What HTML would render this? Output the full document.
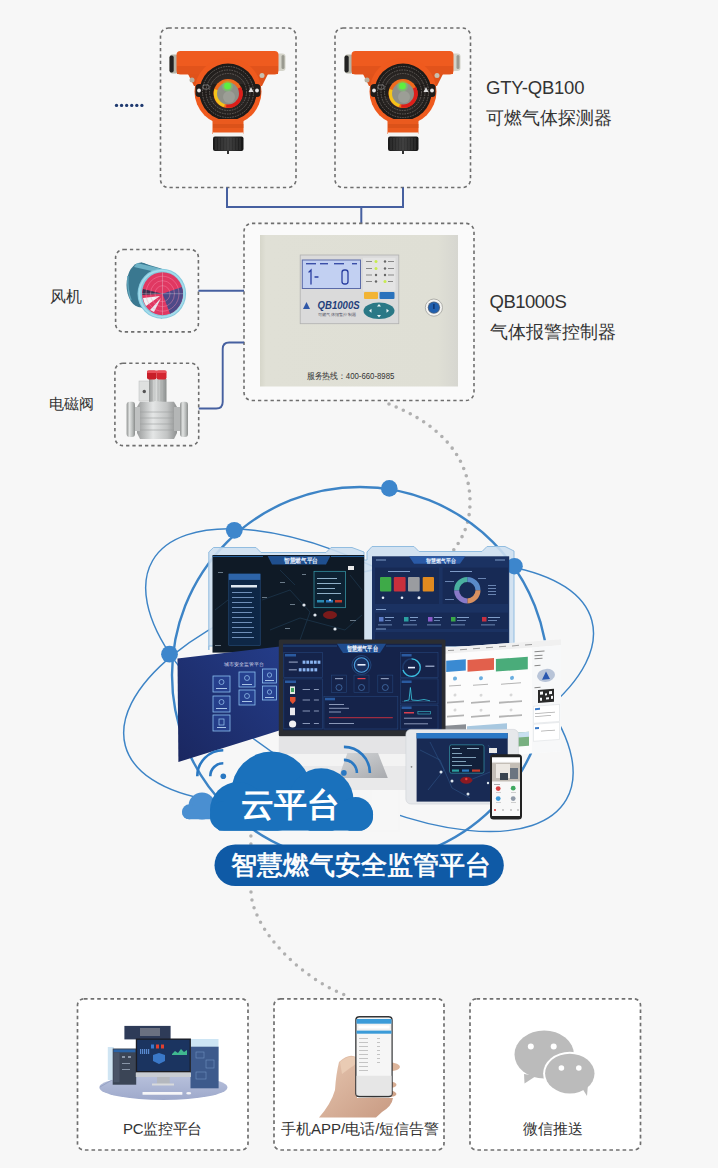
<!DOCTYPE html>
<html><head><meta charset="utf-8">
<style>
html,body{margin:0;padding:0;}
body{width:718px;height:1168px;overflow:hidden;background:#f7f7f7;position:relative;font-family:"Liberation Sans",sans-serif;color:#333;}
svg{position:absolute;left:0;top:0;}
.t{position:absolute;white-space:nowrap;line-height:1;font-weight:400;}
</style></head><body>
<svg width="718" height="1168" viewBox="0 0 718 1168">
<defs>
  <radialGradient id="faceg" cx="0.5" cy="0.5" r="0.5">
    <stop offset="0" stop-color="#3a3532"/><stop offset="0.6" stop-color="#2a2624"/><stop offset="1" stop-color="#1c1917"/>
  </radialGradient>
  <linearGradient id="capg" x1="0" x2="1" y1="0" y2="0">
    <stop offset="0" stop-color="#1a1a1a"/><stop offset="0.5" stop-color="#3a3a3a"/><stop offset="1" stop-color="#141414"/>
  </linearGradient>
  <linearGradient id="metalg" x1="0" x2="1" y1="0" y2="0">
    <stop offset="0" stop-color="#8e9190"/><stop offset="0.35" stop-color="#e2e4e3"/><stop offset="0.7" stop-color="#b8bbba"/><stop offset="1" stop-color="#8a8d8c"/>
  </linearGradient>
  <linearGradient id="valveg" x1="0" x2="1" y1="0" y2="0">
    <stop offset="0" stop-color="#9a9c9c"/><stop offset="0.4" stop-color="#e4e6e6"/><stop offset="0.75" stop-color="#c2c4c4"/><stop offset="1" stop-color="#8e9090"/>
  </linearGradient>
  <g id="det">
    <!-- caps -->
    <rect x="169.5" y="54.5" width="9" height="19" rx="3" fill="#b4b4a8"/>
    <rect x="169.5" y="55.5" width="4.2" height="17" rx="2" fill="#222"/>
    <rect x="276.5" y="53.5" width="9" height="17.5" rx="3" fill="#d4d4ca"/>
    <rect x="281.5" y="55" width="3" height="14" rx="1.5" fill="#9a9a90"/>
    <!-- tube -->
    <rect x="176.5" y="51" width="102" height="23.5" rx="4" fill="#ef5b1f"/>
    <rect x="177" y="66" width="101" height="8" fill="#e2531b"/>
    <path d="M188 74 H268 L262 86 H194Z" fill="#e0521a"/>
    <circle cx="192" cy="80" r="2.5" fill="#b8b0a0"/>
    <circle cx="262" cy="75.5" r="2.5" fill="#c8c0b0"/>
    <!-- housing -->
    <circle cx="228" cy="91.5" r="33.5" fill="#ef5a1e"/>
    <circle cx="228" cy="92" r="28.5" fill="url(#faceg)"/>
    <rect x="195.5" y="84" width="65" height="13" rx="3.5" fill="#201c1a"/>
    <g fill="none" stroke="#6a6460" stroke-width="0.9" stroke-dasharray="1.6 1">
      <circle cx="228" cy="92" r="25.5"/>
      <circle cx="228" cy="92" r="22"/>
      <circle cx="228" cy="92" r="18.5"/>
    </g>
    <circle cx="199" cy="90.5" r="1.9" fill="#e8e8e8"/>
    <circle cx="257" cy="90.5" r="1.9" fill="#e8e8e8"/>
    <rect x="203" y="85" width="6" height="4" rx="1" fill="none" stroke="#aaa" stroke-width="0.6"/>
    <path d="M248.5 92 l2.5 -5 l2.5 5z" fill="#ddd"/>
    <circle cx="228" cy="93.5" r="14.5" fill="#f06a1c"/>
    <path d="M228 93.5 L214.5 89 A14 14 0 0 0 224 107Z" fill="#f4c41a"/>
    <path d="M228 93.5 L241 87 A14 14 0 0 1 226 107.4Z" fill="#dc1e1a"/>
    <circle cx="228" cy="93.5" r="11" fill="#8e9088"/>
    <circle cx="229" cy="97" r="6" fill="#9c9e96"/>
    <circle cx="227.5" cy="86" r="5.5" fill="#60ff50" fill-opacity="0.3"/>
    <circle cx="227.5" cy="86" r="3.4" fill="#5ef040"/>
    <!-- neck -->
    <path d="M212.5 119 H243.5 V134 H212.5Z" fill="#ea5a1e"/>
    <rect x="213" y="124" width="30.5" height="4" fill="#d04c16" fill-opacity="0.6"/>
    <rect x="213" y="132.5" width="30.5" height="4.5" fill="#f4f4f2"/>
    <rect x="213" y="136.5" width="30.5" height="14.5" rx="2" fill="url(#capg)"/>
    <g stroke="#555" stroke-width="0.5"><path d="M216 138 V150 M219 138 V150 M222 138 V150 M225 138 V150 M228 138 V150 M231 138 V150 M234 138 V150 M237 138 V150 M240 138 V150"/></g>
    <rect x="227" y="150.5" width="2" height="3.5" fill="#333"/>
  </g>
</defs>

<!-- ===== top detectors ===== -->
<rect x="160.5" y="28" width="135.5" height="159.5" rx="8" fill="none" stroke="#6e6e6e" stroke-width="1.6" stroke-dasharray="3.3 3"/>
<rect x="335" y="28" width="135.5" height="159.5" rx="8" fill="none" stroke="#6e6e6e" stroke-width="1.6" stroke-dasharray="3.3 3"/>
<use href="#det"/>
<use href="#det" x="175"/>
<!-- dots left -->
<g fill="#1f3a70"><circle cx="116.50" cy="105.4" r="1.65"/><circle cx="121.58" cy="105.4" r="1.65"/><circle cx="126.66" cy="105.4" r="1.65"/><circle cx="131.74" cy="105.4" r="1.65"/><circle cx="136.82" cy="105.4" r="1.65"/><circle cx="141.90" cy="105.4" r="1.65"/></g>
<!-- connectors -->
<path d="M227 187.5 V207 H403 V187.5 M361.3 207 V223.4" fill="none" stroke="#4660a0" stroke-width="2"/>

<!-- ===== control box ===== -->
<rect x="244" y="223.4" width="230" height="177.1" rx="8" fill="#fafafa" stroke="#6e6e6e" stroke-width="1.6" stroke-dasharray="3.3 3"/>
<defs><linearGradient id="pang" x1="0" x2="1" y1="0" y2="0"><stop offset="0" stop-color="#d6d6ca"/><stop offset="0.03" stop-color="#e0e0d6"/><stop offset="0.9" stop-color="#dfdfd5"/><stop offset="1" stop-color="#d6d6d0"/></linearGradient></defs>
<rect x="260" y="235" width="198" height="151.5" fill="url(#pang)"/>
<!-- display module -->
<rect x="300.2" y="255" width="98.6" height="68.7" fill="#dadada" stroke="#b0b0b0" stroke-width="0.8"/>
<rect x="301.8" y="259.5" width="59.2" height="29.5" fill="#5a6aa8"/>
<rect x="302.8" y="260.5" width="57.2" height="27.5" fill="#c2d0f2"/>
<g fill="#3a4ea8"><rect x="306" y="263" width="10" height="1.4"/><rect x="320" y="263" width="8" height="1.4"/><rect x="334" y="263" width="10" height="1.4"/><rect x="352" y="263" width="5" height="1.4"/></g>
<g stroke="#2a3ea0" stroke-width="1.3" fill="none" stroke-linecap="round">
  <path d="M309 272 L311 270 V284"/><path d="M315 277 H318"/>
  <rect x="342" y="270" width="6" height="14" rx="2.5"/>
</g>
<rect x="363" y="257.8" width="32.5" height="33" fill="#e4e4e4"/>
<g fill="#c8ec50"><circle cx="376" cy="261.5" r="1.5"/><circle cx="376" cy="268.5" r="1.5"/><circle cx="385" cy="281.5" r="1.5"/></g>
<g fill="#666"><circle cx="385" cy="261.5" r="1.2"/><circle cx="385" cy="268.5" r="1.2"/><circle cx="385" cy="275" r="1.2"/><circle cx="376" cy="275" r="1.2"/><circle cx="376" cy="281.5" r="1.2"/></g>
<g fill="#888"><rect x="366" y="261" width="6" height="1"/><rect x="366" y="268" width="6" height="1"/><rect x="366" y="274.5" width="6" height="1"/><rect x="366" y="281" width="6" height="1"/><rect x="388" y="261" width="6" height="1"/><rect x="388" y="268" width="6" height="1"/><rect x="388" y="274.5" width="6" height="1"/><rect x="388" y="281" width="5" height="1"/></g>
<rect x="364" y="292" width="14" height="7" rx="1" fill="#f2b434"/>
<rect x="379.5" y="292" width="15" height="7" rx="1" fill="#2a72bc"/>
<ellipse cx="379" cy="310.8" rx="15.5" ry="8.3" fill="#2a7886"/>
<g fill="#e8f4f6"><path d="M379 304 l2 2.5 h-4z"/><path d="M379 317.5 l2 -2.5 h-4z"/><path d="M369 310.8 l2.5 -2 v4z"/><path d="M389 310.8 l-2.5 -2 v4z"/></g>
<text x="317.6" y="309.3" font-size="10.5" font-weight="bold" font-style="italic" fill="#1f3f7a" textLength="42" lengthAdjust="spacingAndGlyphs">QB1000S</text>
<path d="M303 309 l3.5 -7 l3.5 7z" fill="#3058a8"/>
<text x="318" y="315.5" font-size="4" fill="#556" textLength="38" lengthAdjust="spacingAndGlyphs">可燃气体报警控制器</text>
<!-- key lock -->
<circle cx="433.9" cy="307.6" r="8.6" fill="#f4f4f2" stroke="#a0a09a" stroke-width="0.8"/>
<circle cx="433.9" cy="307.6" r="6.2" fill="#5a6a80"/>
<circle cx="433.9" cy="307.6" r="5.3" fill="#1f5fae"/>
<path d="M433.9 304 V309" stroke="#0a2a60" stroke-width="1.2"/>
<text x="306.8" y="378.8" font-size="9" fill="#333" textLength="87.6" lengthAdjust="spacingAndGlyphs">服务热线：400-660-8985</text>

<!-- ===== fan box ===== -->
<rect x="115.6" y="249.5" width="82.8" height="82.4" rx="8" fill="none" stroke="#6e6e6e" stroke-width="1.6" stroke-dasharray="3.3 3"/>
<path d="M141 262.5 L161.8 268.7 L161.8 318.7 L141 307.5Z" fill="#3b7b92"/>
<ellipse cx="141" cy="285" rx="14.5" ry="22.5" fill="#3a7890"/>
<path d="M128 276 Q127 290 131 300" stroke="#62a6bc" stroke-width="1.4" fill="none"/>
<path d="M137 263 L160 268.5 L156 272 L134 267Z" fill="#6eb2c6"/>
<ellipse cx="161.8" cy="293.7" rx="24.3" ry="25" fill="#86cade"/>
<ellipse cx="162.5" cy="293.7" rx="20.5" ry="21.5" fill="#e03862"/>
<path d="M162.5 293.7 L182 287 A20.5 21.5 0 0 1 170 313.7Z" fill="#4e4a88"/>
<path d="M160 296 L143 298 A20.5 21.5 0 0 0 146 306Z" fill="#f2f2f4"/>
<path d="M161 298 L150 310 L154 312Z" fill="#e8e8f0"/>
<path d="M162.5 293.7 L143 289 A20.5 21.5 0 0 0 142.5 295Z" fill="#3a3050"/>
<g fill="none" stroke="#f890b0" stroke-width="0.6" stroke-opacity="0.7"><ellipse cx="162.5" cy="293.7" rx="16.5" ry="17.5"/><ellipse cx="162.5" cy="293.7" rx="12" ry="13"/><ellipse cx="162.5" cy="293.7" rx="7.5" ry="8"/></g>
<g stroke="#e0f0f6" stroke-width="0.5" stroke-opacity="0.6"><path d="M142 293.7 H183 M162.5 272.2 V315.2"/></g>
<ellipse cx="161.8" cy="293.7" rx="22.4" ry="23.2" fill="none" stroke="#a4dcec" stroke-width="1.6"/>
<path d="M198.4 290.8 H244" stroke="#4660a0" stroke-width="1.9" fill="none"/>

<!-- ===== valve box ===== -->
<rect x="114.9" y="363.2" width="83.8" height="82.4" rx="8" fill="none" stroke="#6e6e6e" stroke-width="1.6" stroke-dasharray="3.3 3"/>
<rect x="139" y="381" width="10.5" height="20" fill="#dfe1e0" stroke="#b8baba" stroke-width="0.5"/>
<circle cx="144.3" cy="391.5" r="1.7" fill="#555"/>
<rect x="149" y="379" width="17.5" height="23" fill="url(#metalg)"/>
<g stroke="#9a9c9c" stroke-width="0.5"><path d="M152 380 V401 M155 380 V401 M158 380 V401 M161 380 V401 M164 380 V401"/></g>
<rect x="147" y="370.6" width="9.5" height="9" rx="2" fill="#c81e28"/>
<rect x="156.5" y="370.6" width="10" height="9" rx="2" fill="#d42630"/>
<rect x="147" y="370.6" width="19.5" height="2.5" rx="1" fill="#e8505a"/>
<path d="M140 401.8 H174 L177 407 V433 L174 439 H140 L137 433 V407Z" fill="url(#valveg)"/>
<g stroke="#9c9e9e" stroke-width="0.6" fill="none"><path d="M138 412 H176 M138 418 H176 M138 424 H176 M138 430 H176"/></g>
<rect x="134" y="407" width="6" height="24" fill="#bfc1c1"/>
<rect x="174" y="407" width="7" height="24" fill="#b4b6b6"/>
<rect x="126.6" y="401.8" width="8.4" height="35.2" rx="3" fill="url(#metalg)"/>
<rect x="180" y="401.8" width="8" height="35.2" rx="3" fill="url(#metalg)"/>
<path d="M198.7 408.5 H216.2 Q222.7 408.5 222.7 402 V349 Q222.7 342.5 229.2 342.5 H244" stroke="#4660a0" stroke-width="1.9" fill="none"/>

<!-- gray dotted arcs -->
<path d="M389 404 C430 420 470 450 470 502 C470 525 462 540 449 556" fill="none" stroke="#b0b0b0" stroke-width="3.6" stroke-linecap="round" stroke-dasharray="0 7.8"/>
<path d="M250.9 836 L251 892.7 C253 928 298 978 350 997" fill="none" stroke="#b0b0b0" stroke-width="3.5" stroke-linecap="round" stroke-dasharray="0 8"/>

<!-- ===== orbits ===== -->
<g fill="none" stroke="#3d84c6">
  <circle cx="360" cy="675" r="188" stroke-width="2.4"/>
  <ellipse cx="359.4" cy="680.2" rx="238.9" ry="107.3" transform="rotate(30 359.4 680.2)" stroke-width="1.45"/>
  <ellipse cx="358.6" cy="683.2" rx="241.5" ry="107.3" transform="rotate(-15 358.6 683.2)" stroke-width="1.45"/>
</g>

<!-- ===== screens A & B frames ===== -->
<g fill="#cddff0" fill-opacity="0.9" stroke="#92bde0" stroke-width="1">
  <path d="M208.8 650 V552 L213.5 547.5 H256 L261 552.5 H326 L331 547.5 H352 L364 552 V560 H367 V552 L372 546.5 H414 L419 551.5 H482 L487 546.5 H505 L514 551 V646 H208.8Z"/>
</g>
<g fill="#3d86cc">
  <circle cx="389.3" cy="488.4" r="8.3"/>
  <circle cx="234.3" cy="530.3" r="8.4"/>
  <circle cx="169.5" cy="654.2" r="8.4"/>
  <circle cx="514.5" cy="566.2" r="8.3"/>
</g>
<!-- screen A -->
<rect x="212.5" y="555" width="151.7" height="97.6" fill="#0f1a26"/>
<path d="M267.7 556 H330.4 L326 564.6 H272Z" fill="#1f4f8e"/>
<text x="284" y="563.2" font-size="6.5" fill="#e8f0ff" font-weight="bold" textLength="34" lengthAdjust="spacingAndGlyphs">智慧燃气平台</text>
<g fill="none" stroke="#1e3a50" stroke-width="0.7">
<path d="M262 600 L290 590 L310 612 L300 640 M270 630 L300 618 L345 630 L362 615 M280 570 L295 585 M350 575 L362 590 M215 610 L228 600"/>
</g>
<g fill="#6a7a88"><rect x="218" y="572" width="5" height="1"/><rect x="280" y="582" width="5" height="1"/><rect x="262" y="597" width="5" height="1"/><rect x="290" y="604" width="5" height="1"/><rect x="285" y="628" width="5" height="1"/><rect x="350" y="620" width="6" height="1"/><rect x="215" y="645" width="6" height="1"/><rect x="302" y="574" width="4" height="1"/></g>
<path d="M212.5 556.5 H263 M331 556.5 H364" stroke="#2a70b8" stroke-width="0.8"/>
<rect x="348" y="566" width="6" height="4" fill="#e8e8e8"/>
<rect x="228.8" y="573.9" width="31.4" height="71.4" fill="#0e2746" stroke="#2a5a90" stroke-width="0.5"/>
<rect x="228.8" y="573.9" width="31.4" height="6" fill="#2d64a8"/>
<rect x="231" y="585" width="26" height="2.5" fill="#dfe8f0"/>
<g fill="#6f8fb8"><rect x="232" y="592" width="20" height="1"/><rect x="232" y="597" width="22" height="1"/><rect x="232" y="602" width="20" height="1"/><rect x="232" y="607" width="22" height="1"/><rect x="232" y="612" width="20" height="1"/><rect x="232" y="617" width="22" height="1"/><rect x="232" y="622" width="20" height="1"/><rect x="232" y="627" width="22" height="1"/><rect x="232" y="632" width="20" height="1"/><rect x="232" y="637" width="22" height="1"/></g>
<rect x="314" y="571.3" width="31.4" height="36.4" fill="#0d2233" stroke="#3aa0b0" stroke-width="0.7"/>
<g fill="#8fb0c8"><rect x="317" y="578" width="20" height="1"/><rect x="317" y="583" width="24" height="1"/><rect x="317" y="588" width="18" height="1"/><rect x="317" y="593" width="24" height="1"/></g>
<rect x="317" y="600" width="7" height="2.5" fill="#2a8ab0"/><rect x="326" y="600" width="7" height="2.5" fill="#2a7ac0"/><rect x="335" y="600" width="7" height="2.5" fill="#c03a2a"/>
<ellipse cx="330" cy="615" rx="7" ry="4" fill="#7a1a1a"/>
<g fill="#e0e6ee"><circle cx="304" cy="605" r="1.6"/><circle cx="315" cy="615" r="1.6"/><circle cx="335" cy="629" r="1.6"/><circle cx="330" cy="600" r="1"/></g>
<!-- screen B -->
<rect x="372" y="556.3" width="137.2" height="90" fill="#1b3262"/>
<path d="M409 556.3 H465.3 L460 563.8 H414Z" fill="#2a5aa6"/>
<text x="426" y="562.5" font-size="5.5" fill="#eaf2ff" font-weight="bold" textLength="30" lengthAdjust="spacingAndGlyphs">智慧燃气平台</text>
<rect x="375" y="567.6" width="64" height="36.4" fill="#172a55"/>
<rect x="442.7" y="567.6" width="65.3" height="36.4" fill="#172a55"/>
<rect x="380" y="577" width="11.3" height="14.4" rx="1" fill="#3eaa48"/>
<rect x="393.8" y="577" width="11.8" height="14.4" rx="1" fill="#c8303c"/>
<rect x="408" y="577" width="11.7" height="14.4" rx="1" fill="#9a9ca0"/>
<rect x="422.7" y="577" width="11.3" height="14.4" rx="1" fill="#e08a20"/>
<g fill="none" stroke-width="5">
<path d="M467.3 579.5 A10.7 10.7 0 0 1 478 590.2" stroke="#5a8ac8"/>
<path d="M478 590.2 A10.7 10.7 0 0 1 467.3 600.9" stroke="#d89060"/>
<path d="M467.3 600.9 A10.7 10.7 0 0 1 456.6 590.2" stroke="#8a7ac8"/>
<path d="M456.6 590.2 A10.7 10.7 0 0 1 467.3 579.5" stroke="#4ab0a0"/>
</g>
<rect x="375" y="612.7" width="133" height="16.3" fill="#172a55"/>
<g><rect x="379" y="617" width="4.5" height="4.5" fill="#5a7ac8"/><rect x="404" y="617" width="4.5" height="4.5" fill="#2aa0a0"/><rect x="428" y="617" width="4.5" height="4.5" fill="#8a5ac8"/><rect x="451" y="617" width="4.5" height="4.5" fill="#3aa848"/><rect x="482" y="617" width="4.5" height="4.5" fill="#c83040"/></g>
<g fill="#7f9cc8"><rect x="385" y="617" width="9" height="1"/><rect x="410" y="617" width="8" height="1"/><rect x="434" y="617" width="8" height="1"/><rect x="457" y="617" width="12" height="1"/><rect x="488" y="617" width="12" height="1"/>
<rect x="385" y="620" width="6" height="0.8"/><rect x="410" y="620" width="6" height="0.8"/><rect x="434" y="620" width="6" height="0.8"/><rect x="457" y="620" width="9" height="0.8"/><rect x="488" y="620" width="9" height="0.8"/>
<rect x="378" y="624.5" width="14" height="0.8"/><rect x="403" y="624.5" width="14" height="0.8"/><rect x="427" y="624.5" width="14" height="0.8"/><rect x="451" y="624.5" width="14" height="0.8"/><rect x="481" y="624.5" width="14" height="0.8"/>
<rect x="388" y="571" width="22" height="1"/><rect x="450" y="571" width="22" height="1"/><rect x="376" y="559.5" width="10" height="1"/><rect x="495" y="559.5" width="10" height="1"/><rect x="376" y="609" width="10" height="1"/><rect x="376" y="628.5" width="10" height="1"/>
<rect x="488" y="585" width="8" height="0.8"/><rect x="488" y="588" width="8" height="0.8"/><rect x="488" y="591" width="8" height="0.8"/><rect x="488" y="594" width="8" height="0.8"/><rect x="445" y="581" width="9" height="0.8"/><rect x="445" y="599" width="9" height="0.8"/><rect x="478" y="578" width="8" height="0.8"/></g>
<g fill="#e8eef8"><circle cx="383" cy="597.7" r="1.3"/><circle cx="402" cy="597.7" r="1.3"/><circle cx="419" cy="597.7" r="1.5"/></g>
<rect x="375" y="632" width="133" height="14" fill="#172a55"/>

<!-- screen C (angled) -->
<defs><linearGradient id="cg" x1="0" x2="1" y1="1" y2="0"><stop offset="0" stop-color="#1a2760"/><stop offset="1" stop-color="#243c88"/></linearGradient></defs>
<polygon points="177.5,658.4 280,646.5 280,730.3 178.4,762" fill="url(#cg)"/>
<g fill="#2c4aa0" fill-opacity="0.55" stroke="#8cc0f0" stroke-width="0.8">
<rect x="213" y="676" width="17" height="16"/><rect x="239" y="672" width="16" height="15"/><rect x="262.5" y="669" width="14" height="14"/>
<rect x="213" y="696" width="17" height="16"/><rect x="239" y="690" width="16" height="15"/><rect x="262.5" y="686" width="14" height="14"/>
<rect x="213" y="715" width="17" height="16"/>
</g>
<g fill="none" stroke="#9ccaf4" stroke-width="0.7"><circle cx="221.5" cy="682" r="2.5"/><circle cx="247" cy="678" r="2.5"/><circle cx="269.5" cy="675" r="2.2"/><circle cx="221.5" cy="702" r="2.5"/><circle cx="247" cy="696" r="2.5"/><circle cx="269.5" cy="692" r="2.2"/><rect x="219" y="719" width="5" height="6"/></g>
<g fill="#b8d4f0"><rect x="216" y="688" width="11" height="0.9"/><rect x="242" y="684" width="10" height="0.9"/><rect x="265" y="680" width="9" height="0.9"/><rect x="216" y="708" width="11" height="0.9"/><rect x="242" y="701" width="10" height="0.9"/><rect x="265" y="697" width="9" height="0.9"/><rect x="217" y="727" width="9" height="0.9"/></g>
<text x="223.5" y="666" font-size="4.5" fill="#dde">城市安全监管平台</text>

<!-- webpage -->
<g transform="translate(445 647.8) skewY(-4.2)">
  <rect x="0" y="0" width="116" height="112" fill="#fcfcfc"/>
  <rect x="0" y="0" width="116" height="6" fill="#f0f0f0"/>
  <g fill="#9a9a9a"><rect x="3" y="2.5" width="6" height="1"/><rect x="15" y="2.5" width="7" height="1"/><rect x="28" y="2.5" width="7" height="1"/><rect x="41" y="2.5" width="7" height="1"/><rect x="54" y="2.5" width="7" height="1"/><rect x="67" y="2.5" width="7" height="1"/><rect x="80" y="2.5" width="7" height="1"/></g>
  <rect x="1.2" y="13" width="19.6" height="11.2" fill="#3a8ad2"/>
  <rect x="22.5" y="13.8" width="26.5" height="11.7" fill="#e2604c"/>
  <rect x="50.9" y="15" width="31.9" height="12.5" fill="#4aac7a"/>
  <g fill="#6aaee0"><circle cx="10" cy="31.5" r="2"/><circle cx="36" cy="33" r="2"/><circle cx="67" cy="35" r="2"/></g>
  <g fill="#b4b4b4"><rect x="2" y="54" width="17" height="1.8"/><rect x="26" y="56" width="19" height="1.8"/><rect x="54" y="58" width="23" height="1.8"/>
  <rect x="2" y="68" width="17" height="1.8"/><rect x="26" y="70" width="19" height="1.8"/><rect x="54" y="72" width="23" height="1.8"/>
  <rect x="4" y="38" width="12" height="1"/><rect x="28" y="39" width="15" height="1"/><rect x="56" y="40" width="20" height="1"/></g>
  <g fill="#d8d8d8"><circle cx="10" cy="48" r="1.5"/><circle cx="36" cy="50" r="1.5"/><circle cx="66" cy="52" r="1.5"/><circle cx="10" cy="63" r="1.5"/><circle cx="36" cy="65" r="1.5"/><circle cx="66" cy="67" r="1.5"/></g>
  <rect x="0" y="78" width="21" height="9" fill="#8a8e94"/>
  <rect x="22" y="80" width="40" height="6" fill="#a8c8e0"/>
  <rect x="73" y="90" width="11" height="14" fill="#78b080"/>
  <rect x="73" y="90" width="11" height="5" fill="#c8e0f0"/>
  <rect x="87" y="6" width="29" height="106" fill="#f7f8f9"/>
  <g fill="#888"><rect x="89.5" y="10" width="10" height="1"/><rect x="89.5" y="14" width="8" height="1"/><rect x="89.5" y="17" width="8" height="1"/><rect x="89.5" y="24" width="6" height="1"/><rect x="89.5" y="46" width="6" height="1"/></g>
  <ellipse cx="101" cy="35" rx="9" ry="6.5" fill="#b8c4d8"/>
  <path d="M97 39 l4 -8 l4 8z" fill="#2a58b0"/>
  <rect x="93" y="49" width="16" height="13" fill="#2a2a2a"/>
  <g fill="#f7f8f9"><rect x="95" y="51" width="3" height="3"/><rect x="100" y="53" width="2" height="2"/><rect x="104" y="51" width="3" height="3"/><rect x="95" y="57" width="2" height="3"/><rect x="101" y="57" width="3" height="2"/><rect x="106" y="56" width="2" height="3"/></g>
  <rect x="88.5" y="65" width="26" height="17" fill="#ffffff" stroke="#d8dce0" stroke-width="0.5"/>
  <rect x="88.5" y="83" width="26" height="17" fill="#ffffff" stroke="#d8dce0" stroke-width="0.5"/>
  <rect x="90" y="67" width="5" height="2" fill="#3a7ac8"/><rect x="90" y="86" width="4" height="2" fill="#3a7ac8"/>
  <g fill="#aaa"><rect x="90" y="72" width="20" height="0.8"/><rect x="90" y="75" width="16" height="0.8"/><rect x="96" y="90" width="14" height="0.8"/></g>
</g>

<!-- monitor -->
<rect x="278.8" y="639.5" width="166.7" height="97" rx="1.5" fill="#2b2d32"/>
<rect x="283" y="643.8" width="158.7" height="86.5" fill="#15234a"/>
<path d="M337 643.8 H386 L380 653 H343Z" fill="#1f4c8e"/>
<path d="M283 646 H337 M386 646 H441.7" stroke="#2e6ab0" stroke-width="0.6"/>
<text x="346.5" y="651" font-size="6.8" fill="#eef4ff" font-weight="bold" textLength="31.3" lengthAdjust="spacingAndGlyphs">智慧燃气平台</text>
<g fill="none" stroke="#25457a" stroke-width="0.6">
<rect x="283.8" y="652.6" width="38.8" height="25"/><rect x="283.8" y="678.9" width="38.8" height="50"/>
<rect x="323.9" y="696.4" width="73.9" height="32.6"/>
<rect x="400.3" y="652.6" width="37.7" height="25"/><rect x="400.3" y="678.9" width="37.7" height="25.1"/><rect x="400.3" y="705.2" width="37.7" height="23.8"/>
<rect x="331.4" y="675.1" width="15.1" height="17.6"/><rect x="354" y="675.1" width="15" height="17.6"/><rect x="377.8" y="675.1" width="15" height="17.6"/>
</g>
<g fill="#2a5aa0"><rect x="285" y="654" width="11" height="2.5"/><rect x="285" y="680.5" width="11" height="2.5"/><rect x="325" y="697.8" width="10" height="2.5"/><rect x="401.6" y="680.5" width="10" height="2.5"/><rect x="401.6" y="706.5" width="10" height="2.5"/><rect x="401.6" y="654" width="10" height="2.5"/></g>
<g fill="#8ab4f0"><rect x="302.60" y="660.6" width="2.8" height="3.2"/><rect x="306.35" y="660.6" width="2.8" height="3.2"/><rect x="310.10" y="660.6" width="2.8" height="3.2"/><rect x="313.85" y="660.6" width="2.8" height="3.2"/><rect x="317.60" y="660.6" width="2.8" height="3.2"/><rect x="298.80" y="668.2" width="2.8" height="3.2"/><rect x="302.70" y="668.2" width="2.8" height="3.2"/><rect x="306.60" y="668.2" width="2.8" height="3.2"/><rect x="310.50" y="668.2" width="2.8" height="3.2"/><rect x="314.40" y="668.2" width="2.8" height="3.2"/></g>
<g fill="#8a98b8"><rect x="288.8" y="661.5" width="9" height="1.2"/><rect x="288.8" y="669.2" width="8" height="1.2"/>
<rect x="302.6" y="689" width="7.4" height="1"/><rect x="313.9" y="689" width="5" height="1"/><rect x="302.6" y="699.5" width="7.4" height="1"/><rect x="313.9" y="699.5" width="5" height="1"/><rect x="302.6" y="710.5" width="7.4" height="1"/><rect x="313.9" y="710.5" width="5" height="1"/><rect x="302.6" y="723" width="7.4" height="1"/><rect x="313.9" y="723" width="5" height="1"/>
<rect x="329" y="704" width="15" height="1"/><rect x="329" y="707.8" width="20" height="1"/><rect x="329" y="711.5" width="12" height="1"/><rect x="329" y="723" width="25" height="1"/>
<rect x="425.4" y="665.5" width="9" height="1.5"/><rect x="404" y="717.7" width="28" height="1"/><rect x="404" y="723.3" width="24" height="1"/>
<rect x="335" y="678" width="8" height="1.2"/><rect x="380.8" y="678" width="8" height="1.2"/></g>
<rect x="357.5" y="678" width="8" height="1.2" fill="#e04050"/>
<g fill="none" stroke="#4a7ab8" stroke-width="0.7"><circle cx="339" cy="687.5" r="3"/><circle cx="361.5" cy="687.5" r="3"/><circle cx="385.3" cy="687.5" r="3"/></g>
<circle cx="361.5" cy="665" r="9.5" fill="none" stroke="#2a5a98" stroke-width="0.6"/>
<circle cx="361.5" cy="665" r="7.2" fill="#1a3060" stroke="#4aa0e0" stroke-width="1.1"/>
<rect x="357.5" y="664" width="8" height="1.6" fill="#e8f0ff"/>
<circle cx="411.6" cy="667.6" r="8.8" fill="none" stroke="#1f3a6a" stroke-width="1.6"/>
<path d="M411.6 658.8 A8.8 8.8 0 1 1 403 670" fill="none" stroke="#3ac0e0" stroke-width="1.3"/>
<rect x="408" y="666.8" width="7" height="1.6" fill="#e8f0ff"/>
<path d="M402 701.4 H436" stroke="#3a5a88" stroke-width="0.5"/>
<path d="M404 701 L409 700 L410.4 687.5 L411.8 700 L418 700.5 L424 699.5 L430 700.8" fill="none" stroke="#3ac8e0" stroke-width="0.8"/>
<rect x="328.9" y="717.2" width="63.9" height="1" fill="#c03040"/>
<rect x="404" y="712" width="10" height="1.5" fill="#d84050"/>
<rect x="417.9" y="711.5" width="12.5" height="2.5" fill="none" stroke="#3ac0d0" stroke-width="0.6"/>
<g><rect x="290" y="686.4" width="5" height="7.6" fill="#e0e8e0"/><rect x="291" y="688" width="3" height="4" fill="#40a060"/>
<path d="M290 697 h5.5 v4 l-2.75 3 l-2.75 -3z" fill="#e05030"/>
<rect x="290" y="707.7" width="5" height="7.5" fill="#e8e8ec"/>
<circle cx="292.6" cy="724" r="3.6" fill="#f0f0f2"/></g>
<rect x="278.8" y="736.4" width="166.7" height="17.8" fill="#e4e4e6"/>
<rect x="278.8" y="754.2" width="166.7" height="11.8" fill="#f3f3f3"/>
<defs><linearGradient id="standg" x1="0" x2="1" y1="0" y2="1"><stop offset="0" stop-color="#d4d6d8"/><stop offset="1" stop-color="#a8aaae"/></linearGradient></defs>
<rect x="278.8" y="766" width="166.7" height="24" fill="#e9e9ea"/>
<rect x="330" y="790" width="70" height="42" fill="#f6f6f6"/>
<path d="M347.4 753 H378 L387.8 778 H338.4Z" fill="url(#standg)"/>

<!-- tablet -->
<rect x="405.9" y="729.4" width="112.5" height="74.6" rx="5" fill="#e6e8eb" stroke="#cfd2d6" stroke-width="0.6"/>
<circle cx="411.5" cy="766.8" r="0.9" fill="#888"/>
<rect x="416.6" y="733" width="91.1" height="68.6" fill="#182a54"/>
<rect x="416.6" y="733" width="91.1" height="5.5" fill="#2a78c6"/>
<g fill="none" stroke="#3a6aa0" stroke-width="0.5" stroke-opacity="0.8">
<path d="M420 750 L440 760 L452 788 L470 798 M430 742 L444 770 L428 790 M470 780 L495 770 L505 790 M488 745 L500 760"/>
</g>
<rect x="449.5" y="744.8" width="34.5" height="28.4" rx="2" fill="#12203a" stroke="#3aa8b8" stroke-width="0.6"/>
<g fill="#8fb0c8"><rect x="452" y="748" width="8" height="1"/><rect x="467" y="748" width="12" height="1"/><rect x="452" y="753" width="10" height="0.9"/><rect x="452" y="757" width="24" height="0.9"/><rect x="452" y="761" width="14" height="0.9"/><rect x="452" y="765" width="20" height="0.9"/></g>
<rect x="452" y="769.5" width="7" height="2.2" fill="#2aa0a0"/><rect x="462" y="769.5" width="7" height="2.2" fill="#2a7ac0"/><rect x="472" y="769.5" width="8" height="2.2" fill="#c83a2a"/>
<rect x="489" y="748" width="8" height="5" fill="#e8e8e8"/>
<g fill="#dde6ee"><circle cx="441" cy="772" r="1.5"/><circle cx="452" cy="781" r="1.5"/><circle cx="468" cy="794" r="1.5"/><circle cx="488" cy="783" r="1.2"/></g>
<ellipse cx="466.3" cy="780.3" rx="6" ry="3.5" fill="#8a1a22"/>
<circle cx="466.3" cy="779" r="1.2" fill="#f04040"/>
<!-- phone -->
<rect x="490" y="754.3" width="32" height="65.1" rx="3.5" fill="#222"/>
<rect x="492" y="757.5" width="28" height="58.5" fill="#f8f8f8"/>
<rect x="492" y="757.5" width="28" height="4" fill="#ffffff"/>
<rect x="492" y="762.6" width="28" height="18.9" fill="#c4beb6"/>
<rect x="496" y="764" width="14" height="14" fill="#ece8e2"/>
<rect x="510" y="768" width="8" height="11" fill="#6a7480"/>
<rect x="500" y="773" width="8" height="7" fill="#3a4450"/>
<g fill="#999"><rect x="494" y="784" width="6" height="0.8"/></g>
<g><circle cx="498.2" cy="788.6" r="2.4" fill="#d84040"/><circle cx="513.2" cy="788.2" r="2.4" fill="#40a860"/><circle cx="498.2" cy="798.6" r="2.4" fill="#3a9ad8"/><circle cx="513.2" cy="798.6" r="2.4" fill="#909aa8"/></g>
<g fill="#bbb"><rect x="496" y="792" width="5" height="0.7"/><rect x="511" y="792" width="5" height="0.7"/><rect x="496" y="802" width="5" height="0.7"/><rect x="511" y="802" width="5" height="0.7"/></g>
<g fill="#c0c0c0"><circle cx="495" cy="810" r="1"/><circle cx="503" cy="810" r="1"/><circle cx="511" cy="810" r="1"/><circle cx="518" cy="810" r="1"/></g>
<circle cx="495" cy="810" r="1" fill="#e04040"/>

<!-- gray band under stand -->

<!-- ===== wifi icons ===== -->
<g fill="none" stroke="#2a78c2" stroke-width="2.6" stroke-linecap="butt">
  <path d="M210.3 776.2 A13 13 0 0 1 223.3 763.2"/>
  <path d="M197.3 776.2 A26 26 0 0 1 223.3 750.2"/>
  <path d="M343.9 759.9 A13 13 0 0 1 356.9 772.9"/>
  <path d="M343.9 746.9 A26 26 0 0 1 369.9 772.9"/>
</g>
<g fill="#2a78c2"><circle cx="223.3" cy="776.2" r="2.8"/><circle cx="343.9" cy="772.9" r="2.8"/></g>

<!-- ===== cloud ===== -->
<clipPath id="cclip"><rect x="150" y="700" width="300" height="130.7"/></clipPath>
<path d="M372 790 L398 790 L398 830 L372 830Z" fill="#f7f7f7"/>
<g fill="#4a8fd1">
  <circle cx="202" cy="806" r="13.5"/>
  <circle cx="189.5" cy="811.7" r="7.5"/>
  <rect x="182.2" y="806" width="60" height="13.3" rx="6.6"/>
</g>
<g fill="#1a71bc" clip-path="url(#cclip)">
  <circle cx="271.5" cy="791.5" r="40"/>
  <circle cx="321.2" cy="800.6" r="32.4"/>
  <circle cx="355.6" cy="814.6" r="17.5"/>
  <circle cx="238" cy="810" r="28"/>
  <rect x="210" y="801" width="163" height="29.7" rx="14"/>
</g>
<!-- pill -->
<rect x="214.5" y="844.5" width="289.3" height="41.5" rx="20.75" fill="#0f5aa6"/>

<!-- ===== bottom boxes ===== -->
<rect x="77.5" y="998.8" width="170.5" height="151.2" rx="6.5" fill="#ffffff" stroke="#707070" stroke-width="1.7" stroke-dasharray="3.6 3"/>
<rect x="274" y="998.8" width="170" height="151.2" rx="6.5" fill="#ffffff" stroke="#707070" stroke-width="1.7" stroke-dasharray="3.6 3"/>
<rect x="470" y="998.8" width="170.5" height="151.2" rx="6.5" fill="#ffffff" stroke="#707070" stroke-width="1.7" stroke-dasharray="3.6 3"/>

<!-- pc image -->
<defs>
<linearGradient id="baseg" x1="0" x2="0" y1="0" y2="1"><stop offset="0" stop-color="#b8c1dc"/><stop offset="1" stop-color="#9ea9cb"/></linearGradient>
<linearGradient id="skin" x1="0" x2="1" y1="0" y2="1"><stop offset="0" stop-color="#e6c6b0"/><stop offset="1" stop-color="#c89a82"/></linearGradient>
</defs>
<ellipse cx="163.4" cy="1087.4" rx="64" ry="12.6" fill="url(#baseg)"/>
<path d="M100 1087 L112 1080" stroke="#8896b8" stroke-width="0.6"/>
<rect x="107.8" y="1047" width="6" height="33" fill="#c4def0" fill-opacity="0.8"/>
<rect x="190.5" y="1039" width="28" height="22" fill="#c4e0f2" fill-opacity="0.85"/>
<rect x="124.4" y="1025.9" width="46.2" height="13.5" fill="#2e3b58"/>
<rect x="140" y="1028" width="20" height="8" fill="#6a7080"/>
<rect x="112.7" y="1048.5" width="23.5" height="36.2" fill="#3b4556"/>
<rect x="113.5" y="1049.5" width="22" height="2.8" fill="#2a64a8"/>
<rect x="113.5" y="1052.3" width="6" height="30" fill="#4a5568"/>
<g fill="#8a96a8"><rect x="122" y="1056" width="3" height="2"/><rect x="128" y="1056" width="3" height="2"/><rect x="122" y="1063" width="8" height="1"/><rect x="122" y="1069" width="8" height="1"/></g>
<rect x="190.5" y="1046.7" width="28.1" height="41.6" fill="#3d5a8c"/>
<g fill="none" stroke="#7a9ac8" stroke-width="0.5"><rect x="196" y="1052" width="8" height="6"/><rect x="206" y="1060" width="8" height="8"/><rect x="196" y="1072" width="10" height="7"/></g>
<rect x="135.8" y="1038.5" width="55.1" height="34.1" fill="#1b1d24"/>
<rect x="137.1" y="1039.8" width="52.5" height="31.2" fill="#1b3460"/>
<g fill="#e04030"><rect x="156" y="1044.5" width="3" height="4"/><rect x="161" y="1044.5" width="3" height="4"/></g>
<rect x="151" y="1044.5" width="3" height="4" fill="#3a7ad0"/>
<g fill="#5a8ad0"><rect x="140" y="1049" width="1.2" height="5"/><rect x="142" y="1049" width="1.2" height="5"/><rect x="144" y="1049" width="1.2" height="5"/><rect x="146" y="1049" width="1.2" height="5"/><rect x="148" y="1049" width="1.2" height="5"/></g>
<path d="M172 1054 l3 -3 l3 2 l3 -4 l3 3 l3 -2 v5 h-15z" fill="#40b890"/>
<path d="M153 1055 l6 -2 l6 2 v6 l-6 3 l-6 -3z" fill="#3a78c8"/>
<rect x="135.8" y="1072.6" width="55.1" height="4.4" fill="#c8ccd2"/>
<rect x="157" y="1077" width="12.7" height="7.7" fill="#b4b8be"/>
<rect x="152" y="1083.5" width="22" height="2" fill="#d8dadc"/>
<rect x="142.5" y="1092" width="39.9" height="2.7" rx="0.5" fill="#f6f6f8"/>
<ellipse cx="188.7" cy="1093.2" rx="2.5" ry="1.2" fill="#f4f4f6"/>

<!-- phone in hand -->
<path d="M339 1062 Q350 1052 357 1058 L357 1098 Q372 1097 393 1098 Q392 1106 382 1112 L376 1117.5 L319 1117.5 Q331 1104 335 1090 Q336 1074 339 1062Z" fill="url(#skin)"/>
<path d="M340 1062 Q350 1054 356 1058 Q358 1064 350 1068 L342 1074Z" fill="#e9cbb4"/>
<path d="M388 1062 Q400 1063 400 1067 Q399 1071 390 1071Z" fill="#dcb49a"/>
<path d="M388 1081 Q397 1082 396.5 1085 Q396 1088 388 1088Z" fill="#d6ac92"/>
<path d="M388 1090 Q396 1091 396.5 1094 Q396 1097 388 1097Z" fill="#d0a48a"/>
<rect x="355.2" y="1016" width="37.5" height="81.3" rx="4" fill="#333436"/>
<rect x="356.5" y="1017.6" width="35" height="78.2" rx="3" fill="#f6f6f6"/>
<rect x="356.5" y="1019" width="35" height="4.7" fill="#3b9bd8"/>
<rect x="358" y="1025" width="32" height="4" fill="#ffffff" stroke="#ddd" stroke-width="0.4"/>
<rect x="356.5" y="1030.6" width="35" height="3.1" fill="#3b9bd8"/>
<g fill="#b8b8b8"><rect x="359" y="1038" width="9" height="0.8"/><rect x="359" y="1042" width="9" height="0.8"/><rect x="359" y="1046" width="9" height="0.8"/><rect x="359" y="1050" width="9" height="0.8"/><rect x="359" y="1054" width="9" height="0.8"/><rect x="359" y="1058" width="9" height="0.8"/><rect x="359" y="1062" width="9" height="0.8"/><rect x="359" y="1066" width="9" height="0.8"/><rect x="359" y="1070" width="9" height="0.8"/>
<rect x="377" y="1038" width="3" height="0.8"/><rect x="377" y="1042" width="3" height="0.8"/><rect x="377" y="1046" width="3" height="0.8"/><rect x="377" y="1050" width="3" height="0.8"/><rect x="377" y="1054" width="3" height="0.8"/><rect x="377" y="1058" width="3" height="0.8"/><rect x="377" y="1062" width="3" height="0.8"/></g>
<rect x="356.5" y="1075.8" width="35" height="19.5" fill="#e6e6e6"/>

<!-- wechat -->
<g fill="#bbbbbb">
  <ellipse cx="544.2" cy="1054.5" rx="29.7" ry="24"/>
  <path d="M524 1074 L524.5 1083.4 L536 1076Z"/>
</g>
<g fill="#ffffff"><circle cx="530.8" cy="1046.5" r="3"/><circle cx="553.7" cy="1046.5" r="3"/></g>
<ellipse cx="569.8" cy="1073.6" rx="26.7" ry="21.8" fill="#ffffff"/>
<g fill="#bbbbbb">
  <ellipse cx="569.8" cy="1073.6" rx="24.7" ry="19.8"/>
  <path d="M582 1088 L587 1096 L588 1084Z"/>
</g>
<g fill="#ffffff"><circle cx="561.4" cy="1068" r="2.8"/><circle cx="578.8" cy="1068" r="2.8"/></g>
</svg>

<!-- ===== texts ===== -->
<div class="t" style="left:486px;top:78.5px;font-size:18.5px;letter-spacing:-0.2px;">GTY-QB100</div>
<div class="t" style="left:486px;top:109.5px;font-size:17.5px;">可燃气体探测器</div>
<div class="t" style="left:489.5px;top:293px;font-size:18.5px;letter-spacing:-0.5px;">QB1000S</div>
<div class="t" style="left:489.5px;top:323.5px;font-size:17.5px;">气体报警控制器</div>
<div class="t" style="left:50px;top:288.5px;font-size:15.5px;">风机</div>
<div class="t" style="left:49.2px;top:396px;font-size:15.2px;">电磁阀</div>
<div class="t" style="left:240.5px;top:787.5px;font-size:33px;color:#fff;font-weight:700;">云平台</div>
<div class="t" style="left:230.5px;top:851.5px;font-size:26px;color:#fff;font-weight:400;-webkit-text-stroke:0.7px #fff;">智慧燃气安全监管平台</div>
<div class="t" style="left:123px;top:1121px;font-size:15px;letter-spacing:-0.3px;">PC监控平台</div>
<div class="t" style="left:281px;top:1121px;font-size:15px;">手机APP/电话/短信告警</div>
<div class="t" style="left:523px;top:1121px;font-size:15px;">微信推送</div>
</body></html>
